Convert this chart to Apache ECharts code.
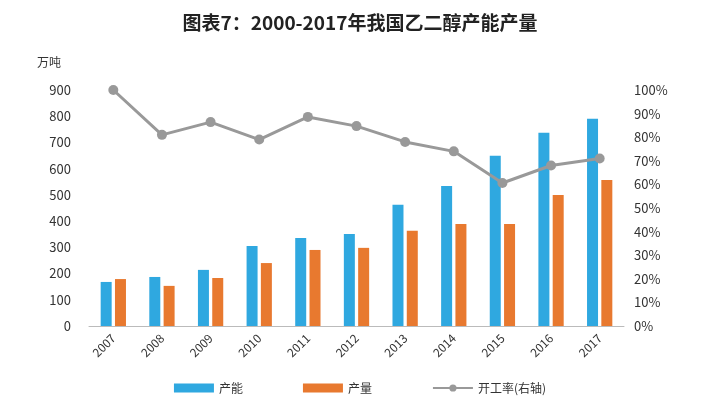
<!DOCTYPE html>
<html><head><meta charset="utf-8">
<script src="https://cdn.jsdelivr.net/npm/echarts@6/dist/echarts.min.js"></script>
<style>html,body{margin:0;background:#fff}#c{width:720px;height:403px}</style>
</head><body><div id="c"></div>
<script>
const years=['2007','2008','2009','2010','2011','2012','2013','2014','2015','2016','2017'];
const capacity=[168,187,214,305,336,351,462,534,649,737,790];
const output=[179,153,183,240,290,298,363,389,389,500,557];
const rate=[100,81,86.4,79,88.6,84.7,78,74,60.6,68,71];
const font='"Noto Sans CJK SC","Noto Sans",sans-serif';
const chart=echarts.init(document.getElementById('c'));
chart.setOption({
  animation:false,
  textStyle:{fontFamily:font},
  title:{text:'图表7：2000-2017年我国乙二醇产能产量',left:'center',top:8,textStyle:{fontSize:19,fontWeight:'bold',color:'#222',fontFamily:font}},
  legend:{bottom:4,itemGap:60,textStyle:{fontSize:12,color:'#333'},
    data:[{name:'产能',icon:'rect'},{name:'产量',icon:'rect'},{name:'开工率(右轴)'}],itemWidth:40,itemHeight:9},
  grid:{left:89,right:96,top:90,bottom:77},
  xAxis:{type:'category',data:years,axisTick:{show:false},axisLine:{lineStyle:{color:'#bbb'}},
    axisLabel:{rotate:45,color:'#333',fontSize:12,margin:10}},
  yAxis:[
    {type:'value',min:0,max:900,interval:100,name:'万吨',nameLocation:'end',nameGap:22,
     nameTextStyle:{color:'#333',fontSize:12,align:'right',padding:[0,28,0,0]},
     axisLabel:{color:'#333',fontSize:13,margin:18},splitLine:{show:false},axisLine:{show:false},axisTick:{show:false}},
    {type:'value',min:0,max:100,interval:10,axisLabel:{formatter:'{value}%',color:'#333',fontSize:13,margin:10},
     splitLine:{show:false},axisLine:{show:false},axisTick:{show:false}}
  ],
  series:[
    {name:'产能',type:'bar',data:capacity,barWidth:11,barGap:'30%',itemStyle:{color:'#2fa8e0'}},
    {name:'产量',type:'bar',data:output,barWidth:11,itemStyle:{color:'#e8792f'}},
    {name:'开工率(右轴)',type:'line',yAxisIndex:1,data:rate,symbol:'circle',symbolSize:10,
     lineStyle:{color:'#999',width:3},itemStyle:{color:'#999'}}
  ]
});
</script></body></html>
